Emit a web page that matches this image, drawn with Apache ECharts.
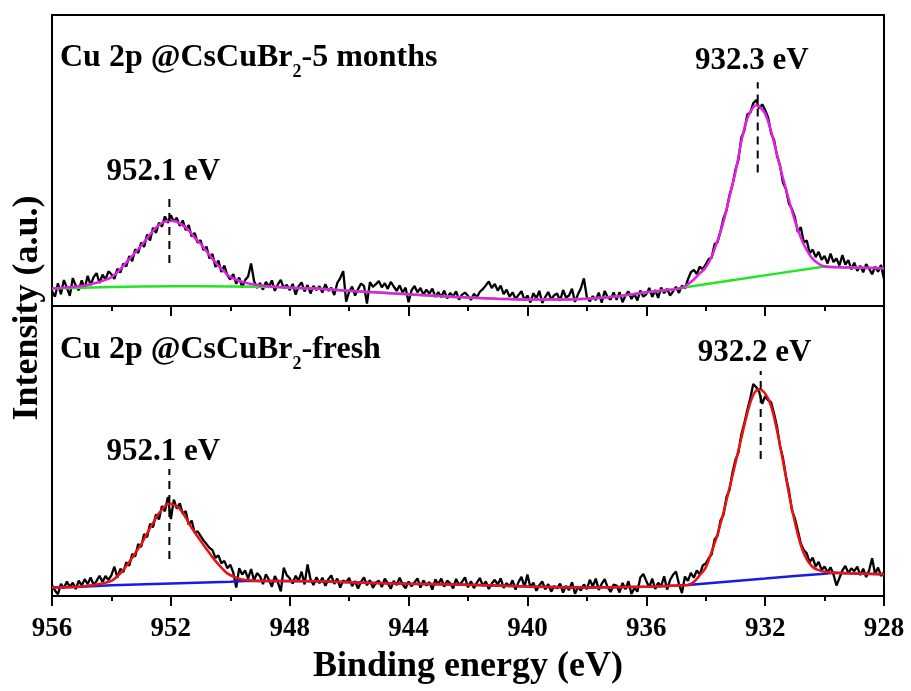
<!DOCTYPE html>
<html>
<head>
<meta charset="utf-8">
<script src="https://cdn.jsdelivr.net/npm/echarts@6/dist/echarts.min.js"></script>
<style>
  html, body { margin: 0; padding: 0; width: 100%; height: 100%; background: #fff; }
  #echarts { width: 911px; height: 691px; }
</style>
</head>
<body>
<div id="echarts"></div>
<script>
// raw spectra, read every 0.1 eV from 956.0 down to 928.0 (arbitrary units, 0-100 per panel)
var rawStart = 956, rawStep = 0.1;

var rawTop = [
  // 956.0 - 955.1
  5.1, 3.2, 7.8, 4.0, 8.9, 6.3, 3.5, 9.6, 7.0, 5.4,
  // 955
  8.8, 6.0, 10.4, 7.2, 9.9, 11.3, 7.9, 10.8, 9.1, 11.9,
  // 954
  10.9, 9.3, 12.8, 11.5, 14.6, 13.6, 17.2, 15.4, 19.5, 18.2,
  // 953
  21.8, 20.3, 24.6, 22.5, 26.9, 25.1, 28.6, 27.3, 30.8, 28.6,
  // 952
  31.2, 29.0, 30.3, 27.5, 29.4, 26.1, 27.8, 23.9, 25.1, 21.8,
  // 951
  22.6, 19.2, 20.4, 16.3, 17.9, 13.4, 15.6, 11.7, 13.9, 10.6,
  // 950
  9.1, 11.0, 7.6, 9.8, 6.4, 8.9, 10.1, 14.6, 8.6, 6.2,
  // 949
  7.9, 5.6, 8.3, 6.6, 8.8, 5.2, 7.4, 9.0, 6.1, 7.3,
  // 948
  5.4, 7.6, 3.9, 6.8, 8.1, 5.0, 7.2, 4.3, 6.9, 5.5,
  // 947
  6.8, 4.6, 7.5, 5.2, 6.3, 3.8, 7.9, 9.6, 12.0, 1.5,
  // 946
  4.9, 6.7, 3.6, 5.8, 7.7, 6.9, 0.8, 8.2, 6.6, 7.5,
  // 945
  8.6, 6.4, 7.8, 5.9, 8.3, 6.7, 5.2, 7.1, 4.6, 6.3,
  // 944
  1.3, 5.4, 6.9, 4.7, 6.2, 3.9, 5.6, 4.2, 6.0, 3.1,
  // 943
  4.8, 3.0, 5.3, 2.6, 4.5, 3.3, 5.0, 2.2, 3.9, 4.6,
  // 942
  3.5, 2.1, 4.2, 3.0, 4.9, 5.8, 7.1, 8.4, 6.2, 7.6,
  // 941
  5.3, 7.0, 4.1, 5.6, 3.2, 4.7, 2.4, 3.8, 5.1, 2.0,
  // 940
  3.6, 1.2, 4.4, 2.6, 5.2, 1.0, 3.1, 4.8, 2.3, 3.7,
  // 939
  4.3, 1.8, 5.5, 2.9, 3.6, 5.9, 1.4, 4.0, 6.1, 9.5,
  // 938
  3.0, 1.6, 3.4, 2.0, 4.6, 1.1, 5.2, 3.0, 2.2, 4.7,
  // 937
  2.1, 4.8, 1.3, 3.6, 5.0, 2.4, 4.1, 1.9, 5.3, 3.2,
  // 936
  4.0, 6.2, 3.1, 5.5, 2.8, 6.3, 4.4, 5.9, 3.6, 5.0,
  // 935
  6.6, 4.5, 7.0, 6.0, 9.1, 11.6, 12.4, 11.0, 13.5, 12.6,
  // 934
  14.3, 16.1, 16.6, 21.3, 21.9, 25.8, 30.2, 32.9, 38.1, 41.6,
  // 933
  46.8, 50.2, 57.9, 60.3, 65.8, 66.4, 69.7, 70.8, 67.9, 69.3,
  // 932
  67.4, 64.8, 59.3, 57.1, 51.6, 48.3, 42.4, 40.1, 35.2, 33.4,
  // 931
  30.5, 25.4, 27.1, 21.9, 22.5, 18.1, 19.4, 16.8, 18.6, 15.9,
  // 930
  17.2, 14.6, 18.0, 15.1, 16.3, 13.9, 17.5, 14.2, 15.8, 12.6,
  // 929
  14.9, 12.1, 13.8, 11.6, 14.4, 12.8, 10.9, 13.5, 11.8, 14.1,
  // 928
  9.2
];

var rawBot = [
  // 956.0 - 955.1
  3.8, 1.9, 0.6, 4.2, 2.7, 5.0, 3.1, 4.6, 2.4, 5.3,
  // 955
  3.6, 5.8, 4.1, 6.4, 3.9, 5.2, 7.0, 4.8, 6.9, 5.5,
  // 954
  7.2, 10.1, 6.3, 9.4, 8.2, 11.6, 10.4, 14.5, 13.6, 17.9,
  // 953
  16.9, 21.4, 20.3, 24.9, 23.7, 28.2, 26.4, 31.0, 29.2, 34.1,
  // 952
  26.5, 33.2, 30.1, 32.0, 28.4, 29.3, 24.6, 26.0, 21.8, 22.3,
  // 951
  20.7, 19.1, 17.9, 16.6, 15.8, 13.2, 14.0, 11.3, 12.1, 9.6,
  // 950
  10.8, 8.1, 2.9, 9.6, 7.4, 8.8, 6.0, 9.3, 5.4, 7.9,
  // 949
  6.8, 4.1, 7.5, 5.6, 3.2, 6.9, 4.8, 1.6, 9.8, 7.2,
  // 948
  6.1, 4.3, 7.0, 5.2, 8.4, 4.0, 10.9, 5.7, 3.8, 6.5,
  // 947
  4.4, 6.3, 3.5, 5.8, 7.1, 4.2, 6.0, 2.9, 5.4, 4.7,
  // 946
  6.2, 3.4, 5.1, 2.6, 4.9, 6.4, 3.7, 5.5, 2.8, 4.6,
  // 945
  5.3, 3.1, 6.0, 4.4, 2.5, 5.2, 3.8, 6.3, 4.0, 2.7,
  // 944
  5.0, 3.3, 4.7, 6.1, 2.9, 5.4, 3.6, 4.8, 2.2, 5.7,
  // 943
  4.1, 6.0, 3.2, 5.3, 4.4, 2.6, 5.9, 3.8, 4.9, 6.4,
  // 942
  3.0, 5.1, 2.7, 4.6, 6.2, 3.5, 5.0, 2.4, 4.3, 5.6,
  // 941
  3.9, 6.1, 2.8, 4.4, 3.3, 5.4, 2.2, 4.8, 6.6, 3.1,
  // 940
  7.4, 2.9, 4.6, 1.8, 3.7, 5.0, 2.3, 4.1, 1.5, 3.4,
  // 939
  2.6, 4.3, 1.2, 3.5, 2.0, 4.7, 0.8, 3.1, 1.9, 4.0,
  // 938
  2.4, 5.6, 3.3, 6.0, 2.1, 4.2, 5.8, 3.0, 1.4, 3.9,
  // 937
  3.6, 1.2, 4.5, 2.3, 5.1, 0.7, 2.8, 1.5, 6.4, 7.6,
  // 936
  5.2, 3.0, 6.0, 2.4, 4.6, 3.3, 6.8, 2.2, 5.5, 7.3,
  // 935
  8.4, 4.1, 1.0, 6.7, 5.2, 8.0, 6.3, 8.8, 7.4, 10.5,
  // 934
  11.2, 13.0, 14.4, 19.6, 20.8, 26.1, 28.0, 34.2, 36.5, 42.6,
  // 933
  46.9, 49.4, 55.8, 59.6, 64.1, 68.2, 73.1, 72.0, 70.4, 66.3,
  // 932
  68.9, 67.5, 66.8, 62.9, 58.4, 51.7, 47.6, 41.3, 36.4, 29.6,
  // 931
  26.8, 22.6, 18.1, 15.9, 14.7, 11.6, 13.2, 10.1, 11.8, 9.0,
  // 930
  10.2, 8.1, 9.9, 7.4, 3.6, 6.2, 8.8, 10.4, 7.9, 9.5,
  // 929
  8.6, 10.1, 7.2, 9.4, 6.5, 8.9, 13.0, 7.6, 9.8, 6.9,
  // 928
  8.2
];

// fitted envelope + background, top panel (5 months)
var fitTopE = [956, 955.5, 955, 954.5, 954.2, 954, 953.8, 953.6, 953.4, 953.2, 953, 952.8, 952.6, 952.4, 952.2, 952, 951.8, 951.6, 951.4, 951.2, 951, 950.8, 950.6, 950.4, 950.2, 950, 949.6, 949.2, 948.8, 948, 947, 946, 945, 944, 943, 942, 941, 940, 939, 938, 937, 936, 935.4, 935, 934.8, 934.6, 934.4, 934.2, 934, 933.8, 933.6, 933.4, 933.2, 933, 932.8, 932.6, 932.4, 932.3, 932.2, 932, 931.8, 931.6, 931.4, 931.2, 931, 930.8, 930.6, 930.4, 930.2, 930, 929.5, 929, 928];
var fitTop = [6.0, 6.4, 6.9, 8.0, 9.0, 9.9, 11.6, 13.8, 16.1, 18.4, 20.7, 23.3, 25.8, 27.8, 29.0, 29.3, 28.9, 27.7, 26.0, 23.5, 21.4, 18.8, 16.2, 13.8, 11.8, 10.0, 8.3, 7.4, 6.9, 6.3, 5.9, 5.2, 4.6, 4.0, 3.4, 2.9, 2.5, 2.2, 2.2, 2.5, 3.3, 4.7, 5.4, 5.8, 6.3, 7.5, 9.1, 11.2, 13.2, 17.0, 22.5, 29.0, 37.5, 46.0, 56.5, 64.5, 68.3, 69.0, 68.6, 66.1, 60.0, 52.0, 44.0, 36.5, 29.3, 23.5, 19.2, 16.2, 14.5, 13.6, 13.3, 13.2, 13.0];
var bgTopE = [956, 955, 954, 953, 952, 951, 950, 949, 948.5, 948, 947, 946, 945, 944, 943, 942, 941, 940, 939, 938, 937, 936, 935.4, 935, 934.8, 933, 931.5, 930, 929.5, 929, 928];
var bgTop = [6.0, 6.3, 6.5, 6.7, 6.8, 6.8, 6.7, 6.6, 6.5, 6.3, 5.9, 5.2, 4.6, 4.0, 3.4, 2.9, 2.5, 2.2, 2.2, 2.5, 3.3, 4.7, 5.4, 5.8, 6.3, 9.0, 11.3, 13.6, 13.3, 13.2, 13.0];

// fitted envelope + background, bottom panel (fresh)
var fitBotE = [956, 955.5, 955, 954.5, 954.2, 954, 953.8, 953.6, 953.4, 953.2, 953, 952.8, 952.6, 952.4, 952.2, 952.1, 951.9, 951.7, 951.5, 951.3, 951.1, 950.9, 950.7, 950.5, 950.3, 950.1, 949.8, 949.5, 949, 947, 946, 944, 942, 940, 938, 936, 935, 934.6, 934.4, 934.2, 934, 933.8, 933.6, 933.4, 933.2, 933, 932.8, 932.6, 932.4, 932.2, 932, 931.8, 931.6, 931.4, 931.2, 931, 930.8, 930.6, 930.4, 930.2, 930, 929.7, 929, 928];
var fitBot = [2.9, 3.0, 3.3, 4.0, 4.6, 5.2, 6.8, 9.0, 11.7, 14.8, 17.8, 21.6, 25.2, 28.5, 30.9, 31.8, 31.4, 30.0, 27.0, 23.5, 20.5, 17.6, 14.8, 12.1, 9.8, 7.8, 6.3, 5.5, 5.2, 5.1, 4.7, 4.2, 3.9, 3.3, 2.9, 3.2, 3.6, 3.8, 4.8, 7.2, 9.8, 15.3, 21.3, 28.9, 37.2, 45.8, 54.5, 63.0, 69.3, 71.3, 69.8, 65.5, 57.0, 46.5, 35.3, 25.5, 17.5, 12.6, 10.0, 8.9, 8.4, 8.0, 7.8, 7.5];
var bgBotE = [956, 955, 954, 952, 950, 949.5, 949, 947, 946, 944, 942, 940, 938, 936, 935, 934.6, 933, 932, 931, 930, 929.7, 929, 928];
var bgBot = [2.9, 3.2, 3.7, 4.3, 4.9, 5.2, 5.2, 5.1, 4.7, 4.2, 3.9, 3.3, 2.9, 3.2, 3.6, 3.8, 5.2, 6.0, 6.9, 7.7, 8.0, 7.8, 7.5];

// peak markers (dash from low to high, label above)
var topPeakE = [952.05, 932.25];
var topPeakText = ['952.1 eV', '932.3 eV'];
var topDashLow = [14.8, 45.9];
var topDashHigh = [38.6, 76.9];
var topLabelY = [45.9, 84.3];

var botPeakE = [952.05, 932.15];
var botPeakText = ['952.1 eV', '932.2 eV'];
var botDashLow = [12.8, 47.2];
var botDashHigh = [43.8, 77.6];
var botLabelY = [49.8, 83.8];

var xTicks = { min: 928, max: 956, interval: 4 };

var FONT = 'Liberation Serif';

function pairs(xs, ys) {
  return ys.map(function (v, i) { return [xs[i], v]; });
}
var rawE = rawTop.map(function (_, i) { return +(rawStart - i * rawStep).toFixed(1); });

function lineSeries(data, color, width, gi, smooth) {
  return {
    type: 'line', xAxisIndex: gi, yAxisIndex: gi, data: data,
    showSymbol: false, symbol: 'none', smooth: smooth, sampling: 'none',
    lineStyle: { color: color, width: width }, silent: true, z: 2
  };
}

function peakSeries(gi, es, lows, highs, labelYs, texts) {
  var out = [];
  es.forEach(function (e, i) {
    out.push({
      type: 'line', xAxisIndex: gi, yAxisIndex: gi, symbol: 'none', silent: true, z: 5,
      data: [[e, lows[i]], [e, highs[i]]],
      lineStyle: { color: '#000', width: 2, type: [8, 6] }
    });
  });
  out.push({
    type: 'scatter', xAxisIndex: gi, yAxisIndex: gi, symbolSize: 0, silent: true, z: 6,
    itemStyle: { color: '#000', opacity: 1 },
    emphasis: { disabled: true },
    data: es.map(function (e, i) { return [e, labelYs[i]]; }),
    label: {
      show: true, position: 'inside', offset: [-6, 0], color: '#000', opacity: 1,
      textBorderWidth: 0, textShadowBlur: 0,
      fontFamily: FONT, fontWeight: 'bold', fontSize: 31,
      formatter: function (p) { return texts[p.dataIndex]; }
    }
  });
  return out;
}

function xAxisFor(gi, showLabels) {
  return {
    gridIndex: gi, type: 'value', inverse: true,
    min: xTicks.min, max: xTicks.max, interval: xTicks.interval,
    axisLine: { show: true, lineStyle: { color: '#000', width: 2 } },
    axisTick: { show: true, inside: false, length: 10, lineStyle: { color: '#000', width: 2 } },
    minorTick: { show: true, splitNumber: 2, length: 5, lineStyle: { color: '#000', width: 2 } },
    splitLine: { show: false },
    minorSplitLine: { show: false },
    axisLabel: {
      show: showLabels, margin: 20, color: '#000',
      fontFamily: FONT, fontWeight: 'bold', fontSize: 27
    },
    name: showLabels ? 'Binding energy (eV)' : '',
    nameLocation: 'middle', nameGap: 53,
    nameTextStyle: { color: '#000', fontFamily: FONT, fontWeight: 'bold', fontSize: 36 }
  };
}

function yAxisFor(gi) {
  return {
    gridIndex: gi, type: 'value', min: 0, max: 100,
    axisLine: { show: true, lineStyle: { color: '#000', width: 2 } },
    axisTick: { show: false }, axisLabel: { show: false }, splitLine: { show: false }
  };
}

var titleRich = {
  a: { fontFamily: FONT, fontWeight: 'bold', fontSize: 32, lineHeight: 34, color: '#000' },
  b: { fontFamily: FONT, fontWeight: 'bold', fontSize: 18, lineHeight: 18, color: '#000', padding: [28, 0, 0, 0] }
};

var myChart = echarts.init(document.getElementById('echarts'), null, { renderer: 'canvas' });

myChart.setOption({
  animation: false,
  backgroundColor: '#fff',
  title: [
    { text: '{a|Cu 2p @CsCuBr}{b|2}{a|-5 months}', left: 60, top: 41, padding: 0, textStyle: { rich: titleRich } },
    { text: '{a|Cu 2p @CsCuBr}{b|2}{a|-fresh}', left: 60, top: 333, padding: 0, textStyle: { rich: titleRich } }
  ],
  grid: [
    { left: 52, right: 27, top: 15, height: 291, show: true, borderColor: '#000', borderWidth: 2, backgroundColor: 'transparent' },
    { left: 52, right: 27, top: 306, height: 290, show: true, borderColor: '#000', borderWidth: 2, backgroundColor: 'transparent' }
  ],
  xAxis: [xAxisFor(0, false), xAxisFor(1, true)],
  yAxis: [yAxisFor(0), yAxisFor(1)],
  graphic: [{
    type: 'text', x: 28, y: 308, rotation: Math.PI / 2,
    style: {
      text: 'Intensity (a.u.)', fill: '#000',
      fontFamily: FONT, fontWeight: 'bold', fontSize: 36,
      align: 'center', verticalAlign: 'middle'
    }
  }],
  series: [
    lineSeries(pairs(rawE, rawTop), '#000', 2.3, 0, false),
    lineSeries(pairs(bgTopE, bgTop), '#22e622', 2.5, 0, false),
    lineSeries(pairs(fitTopE, fitTop), '#e51ee5', 2.5, 0, 0.4),
    lineSeries(pairs(rawE, rawBot), '#000', 2.3, 1, false),
    lineSeries(pairs(bgBotE, bgBot), '#1a1ae6', 2.5, 1, false),
    lineSeries(pairs(fitBotE, fitBot), '#ee1111', 2.5, 1, 0.4)
  ].concat(
    peakSeries(0, topPeakE, topDashLow, topDashHigh, topLabelY, topPeakText),
    peakSeries(1, botPeakE, botDashLow, botDashHigh, botLabelY, botPeakText)
  )
});
</script>
</body>
</html>
